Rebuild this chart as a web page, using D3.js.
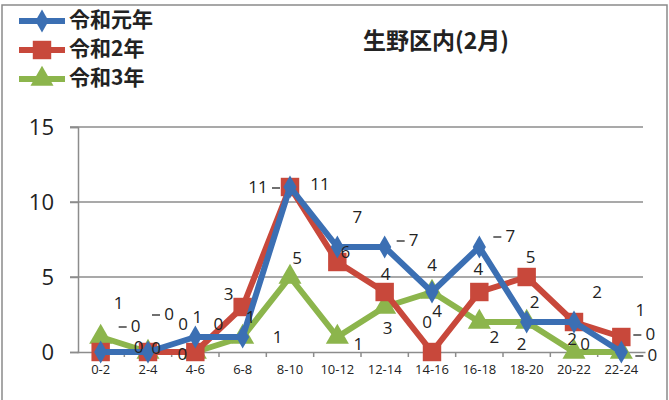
<!DOCTYPE html>
<html>
<head>
<meta charset="utf-8">
<script src="https://d3js.org/d3.v7.min.js"></script>
<style>
  body { margin: 0; background: #fff; }
  svg text { font-family: "Noto Sans CJK JP", "Noto Sans", sans-serif; }
</style>
</head>
<body>
<svg id="chart" width="669" height="400"></svg>
<script>
// data
var hours = ["0-2", "2-4", "4-6", "6-8", "8-10", "10-12", "12-14", "14-16", "16-18", "18-20", "20-22", "22-24"];
var reiwa1 = [0, 0, 1, 1, 11, 7, 7, 4, 7, 2, 2, 0];
var reiwa2 = [0, 0, 0, 3, 11, 6, 4, 0, 4, 5, 2, 1];
var reiwa3 = [1, 0, 0, 1, 5, 1, 3, 4, 2, 2, 0, 0];
var yTicks = [0, 5, 10, 15];

// where each data label sits relative to its point (dx, dy), and which side gets a little leader dash
var off1 = [[35, -25], [21, -37], [2, -19], [8, -19], [-32, 1], [20, -29], [29, -6], [0, -26], [31, -10], [8, -19], [-2, 18], [29, -17]];
var off2 = [[38, -4], [35, -27], [23, -27], [-14, -12], [30, -2], [8, -9], [1, -17], [-5, -29], [-1, -22], [4, -19], [23, -29], [19, -26]];
var off3 = [[18, -33], [8, -3], [-13, 3], [35, 1], [7, -18], [21, 8], [3, 22], [5, 20], [15, 16], [-5, 23], [11, -7], [31, 4]];
var lead1 = [-1, -1, 0, 0, 1, 0, -1, 0, -1, 0, 0, -1];
var lead2 = [0, 0, 0, 0, 0, 0, 0, 0, 0, 0, 0, 0];
var lead3 = [0, 0, 0, 0, 0, 0, 0, 0, 0, 0, 0, -1];

var svg = d3.select("#chart");

// outer frame
svg.append("rect").attr("x", 2).attr("y", 5).attr("width", 665).attr("height", 420)
  .attr("fill", "none").attr("stroke", "#8a8a8a").attr("stroke-width", 1.5);

var x = d3.scaleBand().domain(hours).range([77, 645]);
var y = d3.scaleLinear().domain([0, 15]).range([352, 127]);

// gridlines
svg.append("g").selectAll("line").data(yTicks.slice(1)).join("line")
  .attr("x1", 70).attr("x2", 643)
  .attr("y1", function(d) { return y(d); }).attr("y2", function(d) { return y(d); })
  .attr("stroke", "#8c8c8c").attr("stroke-width", 1.5);

// y axis
var yAxis = svg.append("g").attr("transform", "translate(78,0)")
  .call(d3.axisLeft(y).tickValues(yTicks).tickSize(8).tickPadding(16));
yAxis.select(".domain").attr("stroke", "#8c8c8c").attr("stroke-width", 1.5);
yAxis.selectAll(".tick line").attr("stroke", "#8c8c8c").attr("stroke-width", 1.5);
yAxis.selectAll("text").attr("font-size", 22).attr("fill", "#222")
  .style("font-family", "'Open Sans', sans-serif");

// x axis
var xAxis = svg.append("g").attr("transform", "translate(0,352)")
  .call(d3.axisBottom(x).tickSize(0).tickPadding(13));
xAxis.select(".domain").attr("stroke", "#8c8c8c").attr("stroke-width", 1.5);
xAxis.selectAll("text").attr("font-size", 13).attr("fill", "#222")
  .style("font-family", "'Open Sans', sans-serif");
svg.append("g").selectAll("line").data(hours.slice(1)).join("line")
  .attr("x1", function(d) { return x(d); }).attr("x2", function(d) { return x(d); })
  .attr("y1", 352).attr("y2", 357).attr("stroke", "#8c8c8c").attr("stroke-width", 1.5);

var series = [
  { name: "令和元年", values: reiwa1, color: "#3b6fb3", shape: d3.symbolDiamond, size: 150, off: off1, lead: lead1 },
  { name: "令和2年", values: reiwa2, color: "#c8483b", shape: d3.symbolSquare, size: 340, off: off2, lead: lead2 },
  { name: "令和3年", values: reiwa3, color: "#8cb54c", shape: d3.symbolTriangle, size: 230, off: off3, lead: lead3 }
];

var cx = function(i) { return x(hours[i]) + x.bandwidth() / 2; };

var line = d3.line()
  .x(function(d, i) { return cx(i); })
  .y(function(d) { return y(d); });

// draw 3 first so 1 is on top like the reference
[2, 1, 0].forEach(function(k) {
  var s = series[k];
  svg.append("path").datum(s.values).attr("d", line)
    .attr("fill", "none").attr("stroke", s.color).attr("stroke-width", 6)
    .attr("stroke-linejoin", "round");
  svg.append("g").selectAll("path").data(s.values).join("path")
    .attr("d", d3.symbol().type(s.shape).size(s.size))
    .attr("transform", function(d, i) { return "translate(" + cx(i) + "," + y(d) + ")"; })
    .attr("fill", s.color);
});

// data labels
series.forEach(function(s) {
  var g = svg.append("g");
  g.selectAll("text").data(s.values).join("text")
    .attr("x", function(d, i) { return cx(i) + s.off[i][0]; })
    .attr("y", function(d, i) { return y(d) + s.off[i][1]; })
    .attr("text-anchor", "middle").attr("dominant-baseline", "middle")
    .attr("font-size", 17).attr("fill", "#222")
    .style("font-family", "'Open Sans', sans-serif")
    .text(function(d) { return d; });
  g.selectAll("line").data(s.values.map(function(d, i) { return [d, i]; })
      .filter(function(p) { return s.lead[p[1]] !== 0; }))
    .join("line")
    .attr("x1", function(p) { var i = p[1]; return cx(i) + s.off[i][0] + s.lead[i] * (s.values[i] > 9 ? 14 : 9); })
    .attr("x2", function(p) { var i = p[1]; return cx(i) + s.off[i][0] + s.lead[i] * (s.values[i] > 9 ? 22 : 17); })
    .attr("y1", function(p) { return y(p[0]) + s.off[p[1]][1]; })
    .attr("y2", function(p) { return y(p[0]) + s.off[p[1]][1]; })
    .attr("stroke", "#222").attr("stroke-width", 1.3);
});

// legend
var leg = svg.append("g");
series.forEach(function(s, i) {
  var ly = 21 + i * 29;
  leg.append("line").attr("x1", 19).attr("x2", 65).attr("y1", ly).attr("y2", ly)
    .attr("stroke", s.color).attr("stroke-width", 6);
  leg.append("path").attr("d", d3.symbol().type(s.shape).size(s.size))
    .attr("transform", "translate(42," + ly + ")").attr("fill", s.color);
  leg.append("text").attr("x", 69).attr("y", ly).attr("dominant-baseline", "middle")
    .attr("font-size", 21).attr("font-weight", "bold").attr("fill", "#222").text(s.name);
});

// title
svg.append("text").attr("x", 436).attr("y", 43).attr("text-anchor", "middle")
  .attr("dominant-baseline", "middle").attr("font-size", 23).attr("font-weight", "bold")
  .attr("fill", "#222").text("生野区内(2月)");
</script>
</body>
</html>
